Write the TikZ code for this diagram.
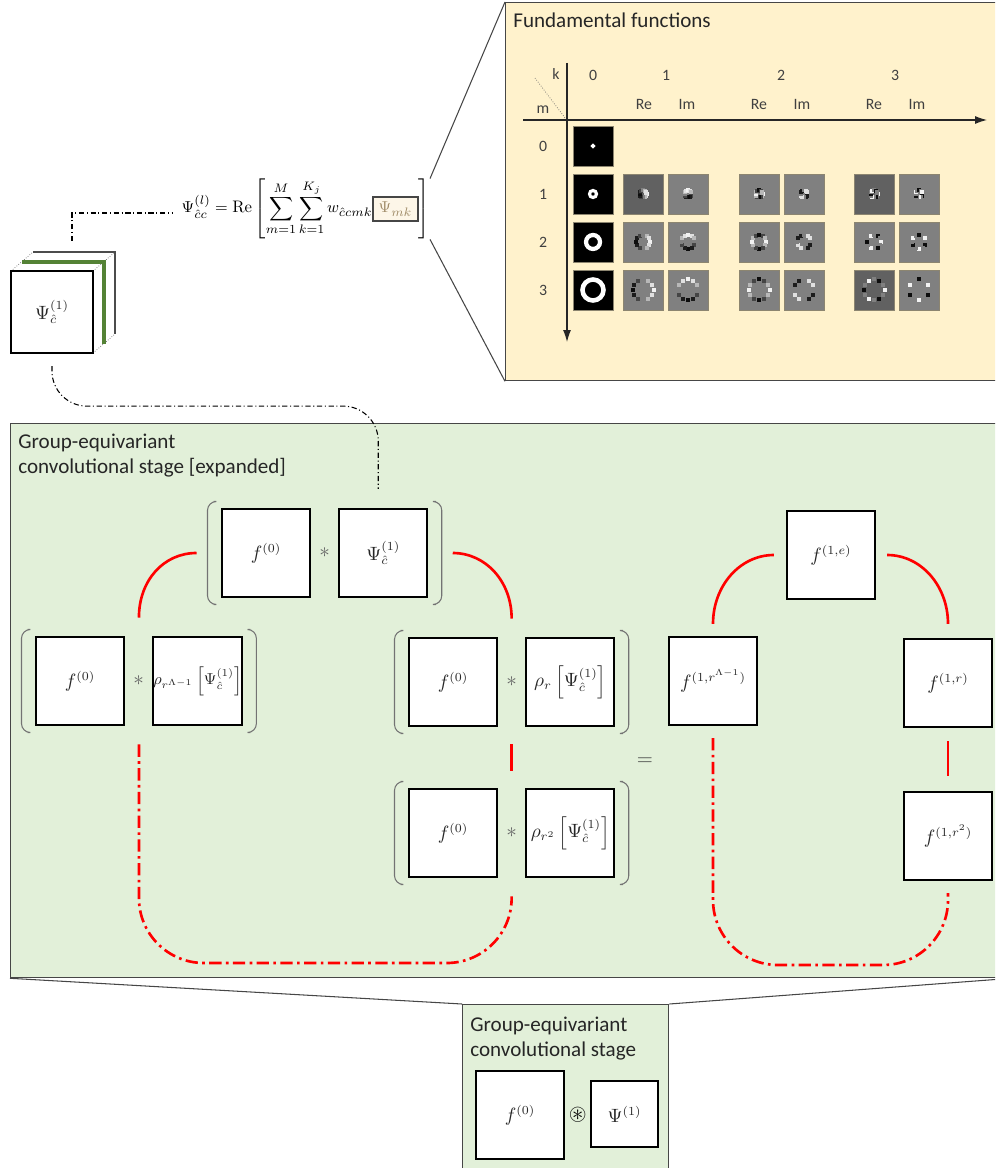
\documentclass[tikz,border=0pt]{standalone}
\usepackage{amsmath,amssymb}
\usepackage{fontspec}
\newfontfamily\calibri{Carlito}
\usetikzlibrary{arrows.meta,positioning,calc,fit}
\definecolor{sand}{RGB}{255,242,204}
\definecolor{sage}{RGB}{226,240,217}
\definecolor{moss}{RGB}{84,130,53}
\definecolor{frame}{RGB}{70,70,70}
\definecolor{tan}{RGB}{160,140,105}
\definecolor{paper}{RGB}{253,246,232}
\setlength{\fboxsep}{2.5pt}
\setlength{\fboxrule}{1pt}
\tikzset{
  >={Latex[length=2.4mm,width=1.6mm]},
  panel/.style={draw=frame,line width=0.8pt,fill=#1,inner sep=0pt},
  cell/.style={draw=black,line width=1.3pt,fill=white,minimum size=1.76cm,inner sep=0pt,
    font=\fontsize{10.5}{12}\selectfont,text=black!85},
  paren/.style={draw=black!55,line width=0.6pt,rounded corners=5pt},
  op/.style={text=black!60,font=\fontsize{12}{12}\selectfont,inner sep=0pt},
  redarc/.style={draw=red,line width=1.5pt},
  reddash/.style={redarc,dash pattern=on 7pt off 2.5pt on 1.5pt off 2.5pt,rounded corners=1.3cm},
  guide/.style={draw=black,line width=0.6pt,dash pattern=on 3pt off 1.5pt on 0.6pt off 1.5pt,rounded corners=0.7cm},
  zoomline/.style={draw=frame,line width=0.6pt},
  heading/.style={font=\calibri\fontsize{12}{14.2}\selectfont,align=left,inner sep=0pt,anchor=north west,text=black!85},
  axlabel/.style={font=\calibri\fontsize{9}{10}\selectfont,text=black!75,inner sep=0pt},
  kernel/.style={fill=#1,draw=black!45!sand,line width=0.4pt,minimum size=0.8cm,inner sep=0pt},
  kernel/.default={black!50},
}
\begin{document}
\begin{tikzpicture}[x=0.02cm,y=-0.02cm]
  \clip (0,0) rectangle (995,1168);
  % panels
  \node[panel=sand,minimum width=10.1cm,minimum height=7.56cm,anchor=north west] (fund) at (505,2) {};
  \node[panel=sage,minimum width=20cm,minimum height=11.08cm,anchor=north west] (stage) at (10,423) {};
  \node[panel=sage,minimum width=4.12cm,minimum height=3.6cm,anchor=north west] (mini) at (462,1004) {};
  \draw[zoomline] (stage.south west) -- (mini.north west);
  \draw[zoomline] (stage.south east) -- (mini.north east);
  \node[heading] (fundtitle) at (513,13) {Fundamental functions};
  \node[heading] (stagetitle) at (18,434) {Group-equivariant\\convolutional stage [expanded]};
  \node[heading] (minititle) at (470,1017) {Group-equivariant\\convolutional stage};

  % basis table
  \draw[->,black!85,line width=0.6pt] (523,120) -- (987,120);
  \draw[->,black!85,line width=0.6pt] (567,63) -- (567,342);
  \draw[black!60,densely dotted,line width=0.4pt] (535,78) -- (565,118);
  \node[axlabel] (klabel) at (556,74) {k};
  \node[axlabel] (mlabel) at (543,110) {m};
  \foreach \k/\x in {0/593,1/666,2/781,3/895}
    \node[axlabel] (col\k) at (\x,75) {\k};
  \foreach \x [count=\k] in {644,759,874} {
    \node[axlabel] (re\k) at (\x,104) {Re};
    \node[axlabel] (im\k) at (\x+43,104) {Im};
  }
  \foreach \m/\y in {0/146,1/194,2/242,3/290}
    \node[axlabel] (row\m) at (543,\y) {\m};
  \foreach \m/\y/\rad/\w in {0/146/0.5/1.7pt,1/194/3.5/1.8pt,2/242/7/2.4pt,3/290/10.5/2.6pt} {
    \node[kernel=black] (ker-0-\m) at (593,\y) {};
    \draw[white,line width=\w] (ker-0-\m) circle[radius=\rad];
  }
  \foreach \m/\y/\rad in {1/194/3.5,2/242/7,3/290/10.5}
    \foreach \k/\x/\ph in {1/643/0,1/688/90,2/759/0,2/804/90,3/874/0,3/919/90} {
      \pgfmathtruncatemacro\bg{((\ph==0 && \k!=2 && \m==1) || (\ph==0 && \k==3 && \m==3)) ? 38 : 50}
      \node[kernel=white!\bg!black] (ker-\k-\m-\x) at (\x,\y) {};
      \foreach \a in {0,30,...,330} {
        \pgfmathtruncatemacro\p{50+45*cos(\k*\a+\ph)}
        \fill[white!\p!black] ($(\x,\y)+(\a:\rad)$) +(-2,-2) rectangle +(2,2);
      }
    }

  % stacked filter and its expansion
  \coordinate (stk) at (52,312);
  \draw[black!70,line width=0.7pt] ($(stk)+(-19,-60)$) -- ($(stk)+(63,-60)$) -- ($(stk)+(63,22)$);
  \draw[black!60,densely dotted,line width=0.4pt] ($(stk)+(-41,-41)$) -- ($(stk)+(-19,-60)$)
    ($(stk)+(41,-41)$) -- ($(stk)+(63,-60)$) ($(stk)+(41,41)$) -- ($(stk)+(63,22)$);
  \draw[moss,line width=2.4pt] ($(stk)+(-30,-50)$) -- ($(stk)+(52,-50)$) -- ($(stk)+(52,32)$);
  \node[cell,minimum size=1.64cm] (psi) at (stk) {$\Psi^{(1)}_{\hat c}$};
  \node[inner sep=0pt,anchor=east,font=\fontsize{9.5}{11}\selectfont] (eq) at (430,209)
    {$\displaystyle\Psi^{(l)}_{\hat c c}=\mathrm{Re}\left[\sum_{m=1}^{M}\sum_{k=1}^{K_j}w_{\hat c c m k}\fcolorbox{frame}{paper}{$\color{tan}\Psi_{mk}$}\right]$};
  \draw[zoomline] (eq.north east) -- (fund.north west);
  \draw[zoomline] (eq.south east) -- (fund.south west);
  \draw[guide,sharp corners] ($(psi.north)+(20,-29)$) |- ($(eq.west)+(-9,4)$);

  \foreach \n/\x/\y/\lbl in {T/266/553/{$\Psi^{(1)}_{\hat c}$},
      L/80/681/{\fontsize{9.2}{11}\selectfont$\rho_{r^{\Lambda-1}}\left[\Psi^{(1)}_{\hat c}\right]$},
      R/453/682/{$\rho_{r}\left[\Psi^{(1)}_{\hat c}\right]$},
      S/453/833/{$\rho_{r^2}\left[\Psi^{(1)}_{\hat c}\right]$}} {
    \node[cell] (f\n) at (\x,\y) {$f^{(0)}$};
    \node[cell,right=0.54cm of f\n] (k\n) {\lbl};
    \node[op] (s\n) at ($(f\n.east)!0.5!(k\n.west)$) {$*$};
    \node[fit=(f\n)(k\n),inner xsep=0.26cm,inner ysep=0.12cm] (g\n) {};
    \draw[paren] ($(g\n.north west)+(6,0)$) -- (g\n.north west) -- (g\n.south west) -- ($(g\n.south west)+(6,0)$);
    \draw[paren] ($(g\n.north east)+(-6,0)$) -- (g\n.north east) -- (g\n.south east) -- ($(g\n.south east)+(-6,0)$);
  }
  \draw[guide] ($(psi.south)+(0,12)$) -- ++(0,40) -| ($(kT.north)+(-5,-19)$);
  \draw[redarc] ($(gT.west)+(-11,0)$) .. controls +(-33,0) and +(0,-37) .. ($(gL.north)+(0,-12)$);
  \draw[redarc] ($(gT.east)+(11,0)$) .. controls +(33,0) and +(0,-37) .. ($(gR.north)+(0,-12)$);
  \draw[redarc] ($(gR.south)+(0,11)$) -- ($(gS.north)+(0,-11)$);
  \coordinate (floorA) at (0,963);
  \draw[reddash] ($(gL.south)+(0,12)$) -- (gL.south |- floorA) -- (gS.south |- floorA) -- ($(gS.south)+(0,12)$);

  \node[op,text=black!75] (equal) at (645,762) {$=$};
  \foreach \n/\x/\y/\lbl in {e/831/555/{f^{(1,e)}}, inv/713/681/{f^{(1,r^{\Lambda-1})}},
      r/948/683/{f^{(1,r)}}, rr/948/836/{f^{(1,r^2)}}}
    \node[cell] (out\n) at (\x,\y) {$\lbl$};
  \draw[redarc] ($(oute.west)+(-12,0)$) .. controls +(-34,0) and +(0,-38) .. ($(outinv.north)+(0,-12)$);
  \draw[redarc] ($(oute.east)+(11,0)$) .. controls +(34,0) and +(0,-38) .. ($(outr.north)+(0,-14)$);
  \draw[redarc] ($(outr.south)+(0,13)$) -- ($(outrr.north)+(0,-15)$);
  \coordinate (floorB) at (0,965);
  \draw[reddash] ($(outinv.south)+(0,12)$) -- (outinv.south |- floorB) -- (outrr.south |- floorB) -- ($(outrr.south)+(0,12)$);

  % collapsed stage
  \node[cell] (fmini) at (520,1115) {$f^{(0)}$};
  \node[cell,minimum size=1.33cm] (psimini) at (624.5,1114) {$\Psi^{(1)}$};
  \node[inner sep=0pt,font=\fontsize{13}{13}\selectfont] (conv) at ($(fmini.east)!0.5!(psimini.west)$) {$\circledast$};
\end{tikzpicture}
\end{document}
